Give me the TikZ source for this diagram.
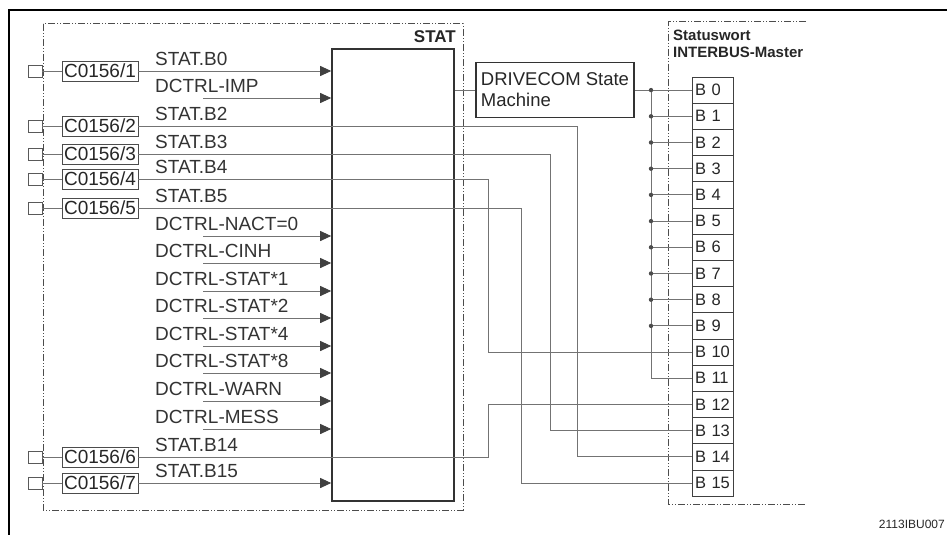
\documentclass[tikz,border=0pt]{standalone}
\usepackage{fontspec}
\setmainfont{Liberation Sans}
\usetikzlibrary{arrows.meta,positioning}

\begin{document}
\begin{tikzpicture}[x=1pt,y=-1pt,
  font=\fontsize{19}{21}\selectfont,
  wire/.style={draw=black!55,line width=0.9pt},
  feed/.style={wire,-{Triangle[length=11pt,width=10pt,color=black!75]}},
  chain/.style={draw=black!70,line width=1pt,dash pattern=on 7pt off 2pt on 1pt off 2pt on 1pt off 2pt},
  pin/.style={draw=black!65,line width=0.9pt,minimum width=14pt,minimum height=12pt,inner sep=0pt},
  code/.style={draw=black!70,line width=0.9pt,minimum width=76pt,minimum height=20pt,inner sep=0pt,text=black!85},
  sig/.style={anchor=base west,inner sep=0pt,text=black!80},
  bit/.style={draw=black!75,line width=0.9pt,minimum height=26.2pt,text width=35pt,inner xsep=3pt,inner ysep=0pt,align=left,text=black!85,font=\fontsize{16.5}{18}\selectfont},
  heavy/.style={draw=black!80,line width=1.6pt}]

\useasboundingbox (0,0) rectangle (947,535);

%====================================================
% Frames
%====================================================
\draw[line width=2.5pt] (9,535) -- (9,10) -- (947,10);
\draw[chain] (43,24) rectangle (463,510);
\draw[chain] (806,22) -- (668,22) -- (668,504) -- (806,504);

\node[anchor=base east,inner sep=0pt,text=black!85,font=\bfseries\fontsize{17}{17}\selectfont] (statlbl) at (456,42) {STAT};
\node[anchor=north west,inner sep=0pt,align=left,text=black!85,font=\bfseries\fontsize{15}{17}\selectfont] (master) at (673,30) {Statuswort\\INTERBUS-Master};

%====================================================
% Blocks
%====================================================
\node[heavy,minimum width=122pt,minimum height=452pt,inner sep=0pt] (stat) at (393,275) {};
\node[heavy,minimum width=158pt,minimum height=55pt,align=left,inner xsep=5pt,text=black!85,font=\fontsize{18.5}{21}\selectfont] (dc) at (555,90.1) {DRIVECOM State\\Machine};

% Status word bits
\foreach \i in {0,...,15}
  \node[bit] (b\i) at (712.5,90.1+26.2*\i) {B \i};

%====================================================
% Inputs
%====================================================
\foreach \n/\y in {1/71,2/126,3/154,4/179,5/208,6/457,7/483}{
  \node[pin] (p\n) at (35,\y) {};
  \node[code] (c\n) at (100,\y) {C0156/\n};
  \draw[wire] (p\n.east) -- (c\n.west);
}

% Signal names
\foreach \y/\txt [count=\k] in {71/STAT.B0,98/DCTRL-IMP,126/STAT.B2,154/STAT.B3,179/STAT.B4,208/STAT.B5,
    236/DCTRL-NACT=0,263/DCTRL-CINH,291/DCTRL-STAT*1,318/DCTRL-STAT*2,346/DCTRL-STAT*4,
    373/DCTRL-STAT*8,401/DCTRL-WARN,429/DCTRL-MESS,457/STAT.B14,483/STAT.B15}
  \node[sig] (s\k) at (155,\y-5.5) {\txt};

% Internal signals
\foreach \y [count=\k] in {98,236,263,291,318,346,373,401,429}{
  \coordinate (d\k) at (203,\y);
  \draw[feed] (d\k) -- (d\k -| stat.west);
}

\draw[feed] (c1.east) -- (c1.east -| stat.west);
\draw[feed] (c7.east) -- (c7.east -| stat.west);

%====================================================
% Wiring to the status word
%====================================================
\coordinate (k2) at (577,0);
\coordinate (k3) at (550,0);
\coordinate (k4) at (488,0);
\coordinate (k5) at (521,0);

\draw[wire] (c2.east) -| (k2 |- b14.west) -- (b14.west);
\draw[wire] (c3.east) -| (k3 |- b13.west) -- (b13.west);
\draw[wire] (c4.east) -| (k4 |- b10.west) -- (b10.west);
\draw[wire] (c5.east) -| (k5 |- b15.west) -- (b15.west);
\draw[wire] (c6.east) -| (k4 |- b12.west) -- (b12.west);

% State machine bus
\coordinate (bus) at (651,0);
\draw[wire] (stat.east |- dc.west) -- (dc.west);
\draw[wire] (dc.east) -- (b0.west);
\draw[wire] (b0.west -| bus) -- (b11.west -| bus) -- (b11.west);
\foreach \i in {1,...,9}
  \draw[wire] (b\i.west -| bus) -- (b\i.west);
\foreach \i in {0,...,9}
  \fill[black!70] (b\i.west -| bus) circle (2.2pt);

\node[anchor=base east,inner sep=0pt,text=black!85,font=\fontsize{12}{12}\selectfont] (fig) at (945,528) {2113IBU007};

\end{tikzpicture}
\end{document}
